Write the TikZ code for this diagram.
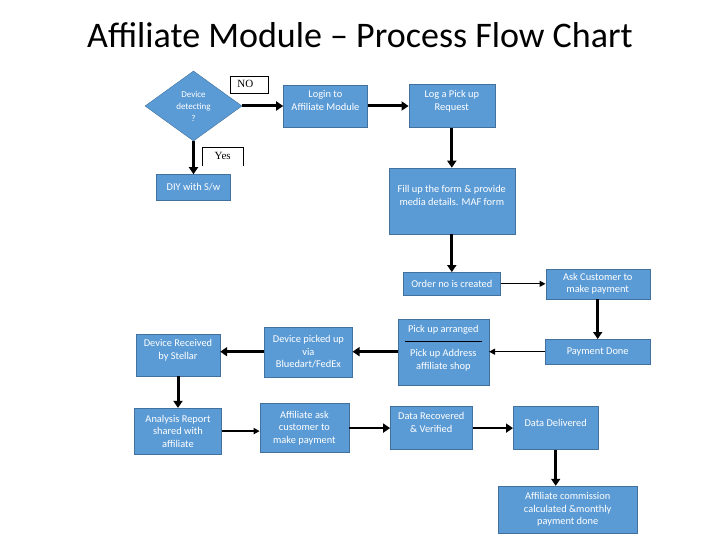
\documentclass[tikz,border=0pt]{standalone}
\usepackage{fontspec}
\setmainfont{Carlito}
\newfontfamily\tagfont{Liberation Serif}
\usetikzlibrary{arrows.meta, positioning, shapes.geometric}
\definecolor{boxblue}{RGB}{91,155,213}
\definecolor{boxedge}{RGB}{65,113,156}

\begin{document}
\begin{tikzpicture}[
    x=1pt, y=1pt,
    node distance=40pt,
    box/.style={rectangle, draw=boxedge, fill=boxblue, text=white, align=center, inner sep=2pt, font=\fontsize{10.4}{12.5}\selectfont},
    lifted/.style={text depth=11pt},
    decision/.style={diamond, draw=boxedge, fill=boxblue, text=white, align=center, inner sep=0pt, aspect=1.4, minimum width=97pt, minimum height=70pt, font=\fontsize{9}{12}\selectfont},
    tag/.style={rectangle, fill=white, inner sep=0pt, font=\tagfont\fontsize{11}{12}\selectfont},
    flow/.style={-{Triangle[length=7pt, width=9pt]}, line width=3pt},
    thinflow/.style={-{Triangle[length=6pt, width=6pt]}, line width=1.2pt}
]
\useasboundingbox (0,0) rectangle (720,-540);

% Title
\node[font=\fontsize{36}{42}\selectfont] (title) at (360,-35) {Affiliate Module – Process Flow Chart};

% Top row
\node[decision] (dia) at (193.5,-106) {Device\\detecting\\?};
\node[box, lifted, minimum width=84pt, minimum height=42pt, right=41pt of dia] (login) {Login to\\Affiliate Module};
\node[box, lifted, minimum width=86pt, minimum height=43pt, right=41pt of login] (logreq) {Log a Pick up\\Request};
\node[box, minimum width=74pt, minimum height=26pt, below=33pt of dia] (diy) {DIY with S/w};

% Decision tags
\node[tag, draw, minimum width=38pt, minimum height=17pt, above right=13pt and -12pt of dia.east] (no) {\hspace*{-8pt}NO};
\node[tag, minimum width=41pt, minimum height=18pt, below right=6pt and 8.5pt of dia.south] (yes) {Yes};
\draw (yes.south west) |- (yes.north east) -- (yes.south east);

% Right column
\node[box, lifted, minimum width=126pt, minimum height=66pt, below=40pt of logreq] (fill) {Fill up the form \& provide\\media details. MAF form};
\node[box, minimum width=97pt, minimum height=23pt, below=38pt of fill] (order) {Order no is created};
\node[box, minimum width=104pt, minimum height=30pt, right=45pt of order] (ask) {Ask Customer to\\make payment};
\node[box, minimum width=105pt, minimum height=25pt, below=40pt of ask] (paid) {Payment Done};

% Middle row
\node[box, text depth=9pt, minimum width=91pt, minimum height=66pt, left=56pt of paid] (pickup) {Pick up arranged\\\textcolor{black}{\rule[3pt]{77pt}{0.8pt}}\\[-1pt]Pick up Address\\affiliate shop};
\node[box, minimum width=88pt, minimum height=50pt, left=45pt of pickup] (picked) {Device picked up\\via\\Bluedart/FedEx};
\node[box, lifted, minimum width=84pt, minimum height=42pt, left=44pt of picked, yshift=-3pt] (received) {Device Received\\by Stellar};

% Bottom row
\node[box, minimum width=87pt, minimum height=46pt, below=32pt of received] (report) {Analysis Report\\shared with\\affiliate};
\node[box, minimum width=89pt, minimum height=49pt, right=38pt of report, yshift=3pt] (affask) {Affiliate ask\\customer to\\make payment};
\node[box, lifted, minimum width=82pt, minimum height=43pt, right=41pt of affask] (recovered) {Data Recovered\\\& Verified};
\node[box, lifted, minimum width=85pt, minimum height=43pt, right=40.5pt of recovered] (delivered) {Data Delivered};
\node[box, minimum width=139pt, minimum height=47pt, below=36pt of delivered, xshift=12pt] (commission) {Affiliate commission\\calculated \&monthly\\payment done};

% Connectors
\draw[flow] (dia) -- (login);
\draw[flow] (login) -- (logreq);
\draw[flow] (dia) -- (diy);
\draw[flow] (logreq) -- (fill);
\draw[flow] (fill) -- (order);
\draw[thinflow] (order) -- (order -| ask.west);
\draw[flow] (ask) -- (paid);
\draw[thinflow] (paid) -- (pickup);
\draw[flow] (pickup) -- (picked);
\draw[flow] (picked) -- (picked -| received.east);
\draw[flow] (received) -- (report);
\draw[thinflow, line width=1.8pt] (report) -- (report -| affask.west);
\draw[flow, line width=2.5pt] (affask) -- (recovered);
\draw[flow, line width=2.5pt] (recovered) -- (delivered);
\draw[flow] (delivered) -- (delivered |- commission.north);

\end{tikzpicture}
\end{document}
